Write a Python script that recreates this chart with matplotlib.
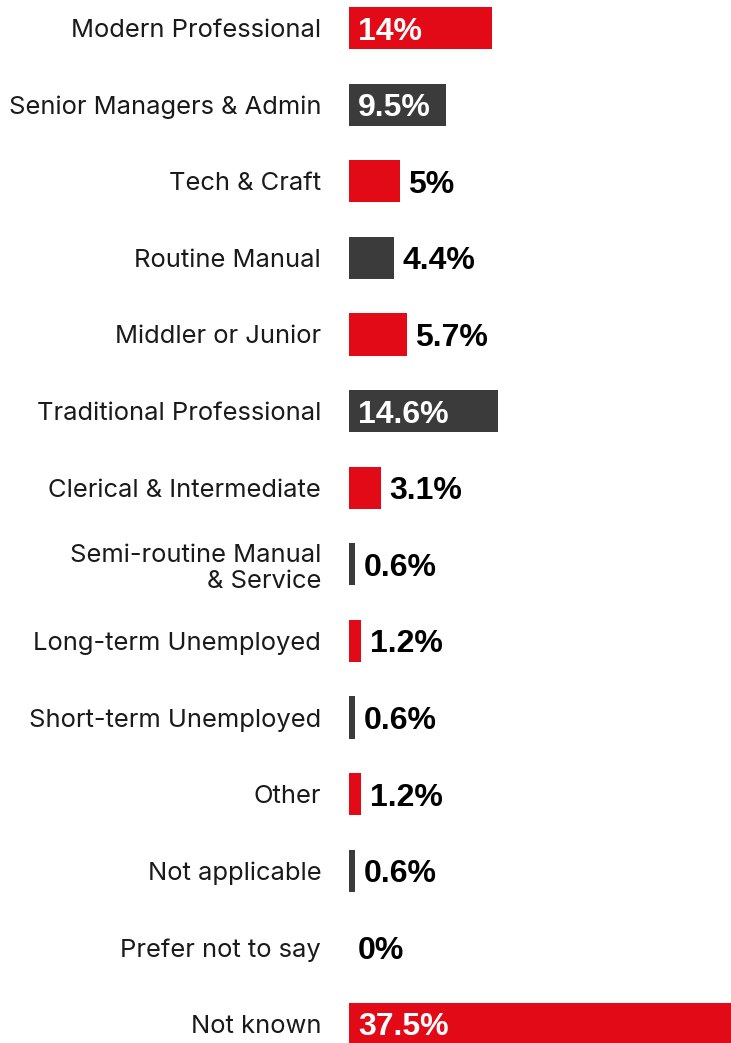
import matplotlib.pyplot as plt

plt.rcParams['font.family'] = ['Inter', 'DejaVu Sans']

categories = ['Modern Professional', 'Senior Managers & Admin', 'Tech & Craft',
              'Routine Manual', 'Middler or Junior', 'Traditional Professional',
              'Clerical & Intermediate', 'Semi-routine Manual\n& Service',
              'Long-term Unemployed', 'Short-term Unemployed', 'Other',
              'Not applicable', 'Prefer not to say', 'Not known']
values = [14, 9.5, 5, 4.4, 5.7, 14.6, 3.1, 0.6, 1.2, 0.6, 1.2, 0.6, 0, 37.5]
labels = ['14%', '9.5%', '5%', '4.4%', '5.7%', '14.6%', '3.1%', '0.6%',
          '1.2%', '0.6%', '1.2%', '0.6%', '0%', '37.5%']

red = '#e20a17'
grey = '#3b3b3b'
colors = [red, grey, red, grey, red, grey, red, grey, red, grey, red, grey,
          grey, red]

W, H, dpi = 731, 1043, 100
fig = plt.figure(figsize=(W / dpi, H / dpi), dpi=dpi)
ax = fig.add_axes([349 / W, 0, 1 - 349 / W, 1])

ys = list(range(len(values)))
ax.barh(ys, values, height=0.55, color=colors)

row = 76.6
ax.set_ylim(13 + (H - 1024) / row, -28 / row)
ax.set_xlim(0, 37.5)

vfont = dict(family=['Liberation Sans', 'DejaVu Sans'], fontsize=23,
             fontweight='bold')
for y, v, lab in zip(ys, values, labels):
    if v > 8:
        ax.annotate(lab, (0, y), xytext=(6.5, 0), textcoords='offset points',
                    ha='left', va='center_baseline', color='white', **vfont)
    else:
        ax.annotate(lab, (v, y), xytext=(6, 0), textcoords='offset points',
                    ha='left', va='center_baseline', color='black', **vfont)

ax.set_yticks(ys)
ax.set_yticklabels(categories, fontsize=18.4, color='#1a1a1a',
                   linespacing=1.15)
ax.tick_params(axis='y', length=0, pad=20)
ax.set_xticks([])
for s in ax.spines.values():
    s.set_visible(False)

fig.savefig('out.png', dpi=dpi)
